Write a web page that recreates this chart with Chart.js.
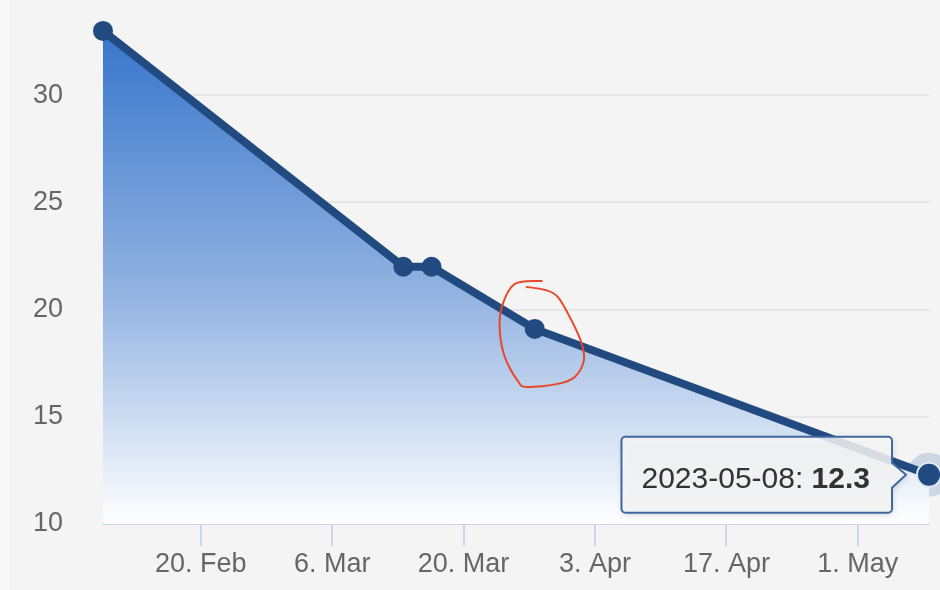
<!DOCTYPE html>
<html lang="en">
<head>
  <meta charset="UTF-8">
  <title>Value over time</title>
  <script src="https://cdn.jsdelivr.net/npm/chart.js"></script>
  <style>
    html, body { margin: 0; padding: 0; background: #f4f4f4; overflow: hidden; }
    body { width: 940px; height: 590px; position: relative; }
    .edge { position: absolute; left: 0; top: 0; width: 9px; height: 590px; background: #f8f8f8; }
    .chart-box { position: absolute; left: 0; top: -40px; width: 940px; height: 630px; }
  </style>
</head>
<body>
  <div class="edge"></div>
  <div class="chart-box"><canvas id="chart"></canvas></div>

  <script>
    // data
    const dates = ['2023-02-09T14:00:00Z', '2023-03-13T14:00:00Z', '2023-03-16T14:00:00Z', '2023-03-27T14:00:00Z', '2023-05-08T14:00:00Z'];
    const values = [33.0, 22.0, 22.0, 19.1, 12.3];
    const tickDates = ['2023-02-20', '2023-03-06', '2023-03-20', '2023-04-03', '2023-04-17', '2023-05-01'];
    const tickLabels = ['20. Feb', '6. Mar', '20. Mar', '3. Apr', '17. Apr', '1. May'];
    const yTicks = [10, 15, 20, 25, 30, 35];
    const markedIndex = 3;   // the point circled in red
    const hoverIndex = 4;    // the point with the tooltip

    const times = dates.map(d => Date.parse(d));
    const points = times.map((t, i) => ({ x: t, y: values[i] }));
    const lineColor = '#204a80';

    Chart.defaults.font.family = '"Liberation Sans", Arial, Helvetica, sans-serif';

    // halo under the hovered point
    const haloPlugin = {
      id: 'halo',
      beforeDatasetsDraw(chart) {
        const pt = chart.getDatasetMeta(0).data[hoverIndex];
        const ctx = chart.ctx;
        ctx.save();
        ctx.beginPath();
        ctx.arc(pt.x, pt.y, 22, 0, Math.PI * 2);
        ctx.fillStyle = 'rgba(165, 184, 210, 0.5)';
        ctx.fill();
        ctx.restore();
      }
    };

    // hand drawn red loop round one point
    const loopPlugin = {
      id: 'loop',
      afterDatasetsDraw(chart) {
        const pt = chart.getDatasetMeta(0).data[markedIndex];
        const offs = [[7, -48], [-20, -45], [-33, -22], [-35, 2], [-30, 28], [-17, 52], [-8, 58],
                      [23, 55], [40, 48], [49, 32], [47, 15], [37, -8], [23, -32], [10, -39], [-8, -42]];
        const p = offs.map(o => [pt.x + o[0], pt.y + o[1]]);
        const ctx = chart.ctx;
        ctx.save();
        ctx.strokeStyle = '#e8482a';
        ctx.lineWidth = 2;
        ctx.lineCap = 'round';
        ctx.beginPath();
        ctx.moveTo(p[0][0], p[0][1]);
        for (let i = 0; i < p.length - 1; i++) {
          const p0 = p[Math.max(i - 1, 0)], p1 = p[i], p2 = p[i + 1], p3 = p[Math.min(i + 2, p.length - 1)];
          ctx.bezierCurveTo(
            p1[0] + (p2[0] - p0[0]) / 6, p1[1] + (p2[1] - p0[1]) / 6,
            p2[0] - (p3[0] - p1[0]) / 6, p2[1] - (p3[1] - p1[1]) / 6,
            p2[0], p2[1]);
        }
        ctx.stroke();
        ctx.restore();
      }
    };

    // tooltip box pointing at the last point
    const tipPlugin = {
      id: 'tip',
      afterDraw(chart) {
        const pt = chart.getDatasetMeta(0).data[hoverIndex];
        const ctx = chart.ctx;
        const label = dates[hoverIndex].slice(0, 10) + ': ';
        const val = values[hoverIndex].toFixed(1);
        const fam = Chart.defaults.font.family;
        ctx.save();
        ctx.font = '30px ' + fam;
        const w1 = ctx.measureText(label).width;
        ctx.font = 'bold 30px ' + fam;
        const w2 = ctx.measureText(val).width;
        const h = 76, r = 4;
        const right = pt.x - 37;
        const left = right - (20 + w1 + w2 + 22);
        const top = pt.y - h / 2, bottom = top + h;
        const tipX = pt.x - 23;

        ctx.beginPath();
        ctx.moveTo(left + r, top);
        ctx.lineTo(right - r, top);
        ctx.arcTo(right, top, right, top + r, r);
        ctx.lineTo(right, pt.y - 12);
        ctx.lineTo(tipX, pt.y);
        ctx.lineTo(right, pt.y + 13);
        ctx.lineTo(right, bottom - r);
        ctx.arcTo(right, bottom, right - r, bottom, r);
        ctx.lineTo(left + r, bottom);
        ctx.arcTo(left, bottom, left, bottom - r, r);
        ctx.lineTo(left, top + r);
        ctx.arcTo(left, top, left + r, top, r);
        ctx.closePath();
        ctx.shadowColor = 'rgba(0, 0, 0, 0.18)';
        ctx.shadowBlur = 6;
        ctx.shadowOffsetX = 1;
        ctx.shadowOffsetY = 2;
        ctx.fillStyle = 'rgba(248, 248, 248, 0.85)';
        ctx.fill();
        ctx.shadowColor = 'transparent';
        ctx.strokeStyle = '#3f69a0';
        ctx.lineWidth = 2;
        ctx.stroke();

        ctx.fillStyle = '#333333';
        ctx.textBaseline = 'alphabetic';
        ctx.font = '30px ' + fam;
        ctx.fillText(label, left + 20, top + 51);
        ctx.font = 'bold 30px ' + fam;
        ctx.fillText(val, left + 20 + w1, top + 51);
        ctx.restore();
      }
    };

    new Chart(document.getElementById('chart'), {
      type: 'line',
      data: {
        datasets: [{
          data: points,
          borderColor: lineColor,
          borderWidth: 8,
          tension: 0,
          clip: false,
          fill: 'start',
          backgroundColor: ctx => {
            const chart = ctx.chart;
            const area = chart.chartArea;
            if (!area) return 'rgba(60,120,200,0.5)';
            const yTop = chart.scales.y.getPixelForValue(Math.max(...values));
            const g = chart.ctx.createLinearGradient(0, yTop, 0, area.bottom);
            g.addColorStop(0, 'rgb(55, 117, 203)');
            g.addColorStop(0.55, 'rgb(150, 181, 226)');
            g.addColorStop(1, 'rgb(255, 255, 255)');
            return g;
          },
          pointRadius: values.map((v, i) => i === hoverIndex ? 12 : 10),
          pointBorderWidth: values.map((v, i) => i === hoverIndex ? 2 : 0),
          pointBorderColor: '#dfe7f2',
          pointBackgroundColor: lineColor
        }]
      },
      options: {
        responsive: true,
        maintainAspectRatio: false,
        animation: false,
        events: [],
        layout: { autoPadding: false, padding: { top: 28, right: 11, left: 0, bottom: 0 } },
        plugins: {
          legend: { display: false },
          tooltip: { enabled: false }
        },
        scales: {
          x: {
            type: 'linear',
            min: times[0],
            max: times[times.length - 1],
            afterBuildTicks: s => { s.ticks = tickDates.map(d => ({ value: Date.parse(d + 'T00:00:00Z') })); },
            afterFit: s => { s.height = 66; s.paddingLeft = 0; s.paddingRight = 0; },
            grid: { drawOnChartArea: false, drawTicks: true, tickLength: 22, color: '#ccd6eb', lineWidth: 2 },
            border: { display: true, color: '#ccd6eb', width: 2 },
            ticks: {
              autoSkip: false,
              maxRotation: 0,
              padding: 2,
              color: '#666666',
              font: { size: 27 },
              callback: (v, i) => tickLabels[i]
            }
          },
          y: {
            min: 10,
            max: 35,
            afterBuildTicks: s => { s.ticks = yTicks.map(v => ({ value: v })); },
            afterFit: s => { s.width = 103; s.paddingTop = 0; s.paddingBottom = 0; },
            grid: { color: '#e6e6e6', lineWidth: 2, drawTicks: false },
            border: { display: false },
            ticks: {
              padding: 40,
              color: '#666666',
              font: { size: 27 }
            }
          }
        }
      },
      plugins: [haloPlugin, loopPlugin, tipPlugin]
    });
  </script>
</body>
</html>
